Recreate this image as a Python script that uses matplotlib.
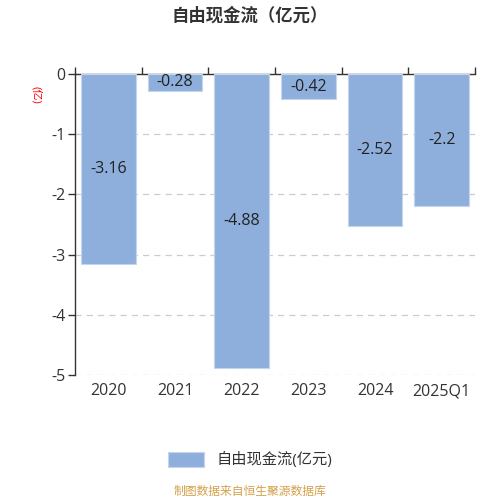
import matplotlib.pyplot as plt
import numpy as np

plt.rcParams['font.family'] = ['Open Sans', 'Noto Sans CJK SC', 'DejaVu Sans']

years = ['2020', '2021', '2022', '2023', '2024', '2025Q1']
fcf = [-3.16, -0.28, -4.88, -0.42, -2.52, -2.2]
labels = ['-3.16', '-0.28', '-4.88', '-0.42', '-2.52', '-2.2']

fig = plt.figure(figsize=(5, 5), dpi=100)
ax = fig.add_axes([0.15, 0.25, 0.80, 0.602])

x = np.arange(len(years))
ax.bar(x, fcf, width=0.82, color='#8EAFDC', edgecolor='#C5D5EE', linewidth=0.8,
       label='自由现金流(亿元)', zorder=3)

# value labels in the middle of each bar
for xi, v, t in zip(x, fcf, labels):
    ax.text(xi, v / 2, t, ha='center', va='center', fontsize=11.5, color='#222222', zorder=4)

ax.set_xlim(-0.5, len(years) - 0.5)
ax.set_ylim(-5, 0)
ax.set_yticks([0, -1, -2, -3, -4, -5])
ax.set_yticklabels(['0', '-1', '-2', '-3', '-4', '-5'], fontsize=11.5, color='#333333')
ax.yaxis.grid(True, linestyle=(0, (5, 4)), color='#CCCCCC', linewidth=0.9, zorder=0)
ax.tick_params(axis='y', length=5, width=1, color='#333333', pad=2)

# category labels at the bottom, boundary ticks on the zero line at top
ax.set_xticks(x)
ax.set_xticklabels(years, fontsize=11.5, color='#333333')
ax.tick_params(axis='x', length=0, pad=6)
ax.set_xticks(np.arange(len(years) + 1) - 0.5, minor=True)
ax.tick_params(axis='x', which='minor', bottom=False, top=True, direction='out',
               length=5, width=1, color='#333333')

for s in ['right', 'bottom']:
    ax.spines[s].set_visible(False)
ax.spines['left'].set_color('#333333')
ax.spines['top'].set_color('#333333')
ax.spines['left'].set_linewidth(1)
ax.spines['top'].set_linewidth(1)

fig.text(0.072, 0.81, '(亿)', rotation=-90, color='red', fontsize=8, ha='center', va='center')

fig.text(0.5, 0.968, '自由现金流（亿元）', ha='center', va='center', fontsize=12.5,
         fontweight='bold', color='#333333')

leg = ax.legend(loc='center', bbox_to_anchor=(0.5, 0.08), bbox_transform=fig.transFigure,
                frameon=False, fontsize=11, handlelength=2.4, handleheight=1.2)
for t in leg.get_texts():
    t.set_color('#333333')

fig.text(0.5, 0.005, '制图数据来自恒生聚源数据库', ha='center', va='bottom', fontsize=8.5,
         color='#D4A04A')

fig.savefig('out.png', dpi=100)
